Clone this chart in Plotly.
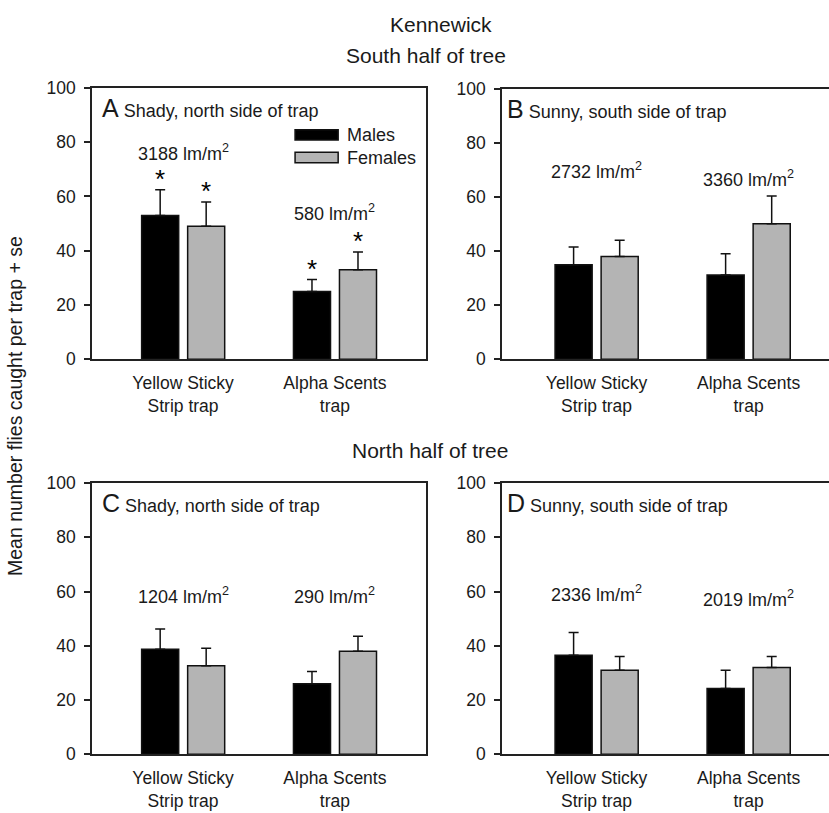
import plotly.graph_objects as go

W, H = 829, 813
FONT = "Liberation Sans, Arial, sans-serif"
TXT = "#1a1a1a"

categories = ["Yellow Sticky<br>Strip trap", "Alpha Scents<br>trap"]
cat_pos = [0, 1]

# Panel values (mean, standard error)
A_male = [53.0, 25.0]
A_male_se = [9.5, 4.4]
A_female = [49.0, 33.0]
A_female_se = [9.0, 6.5]

B_male = [35.0, 31.2]
B_male_se = [6.5, 7.8]
B_female = [38.0, 50.1]
B_female_se = [6.0, 10.3]

C_male = [38.7, 26.0]
C_male_se = [7.5, 4.5]
C_female = [32.6, 38.0]
C_female_se = [6.5, 5.5]

D_male = [36.5, 24.2]
D_male_se = [8.4, 6.8]
D_female = [31.0, 32.0]
D_female_se = [5.0, 4.0]

A_lux = ["3188", "580"]
B_lux = ["2732", "3360"]
C_lux = ["1204", "290"]
D_lux = ["2336", "2019"]
A_lux_y = [76.2, 54.2]
B_lux_y = [69.7, 66.7]
C_lux_y = [58.6, 58.6]
D_lux_y = [59.2, 57.5]

A_male_star = [True, True]
A_female_star = [True, True]

panel_letters = ["A", "B", "C", "D"]
panel_texts = ["Shady, north side of trap", "Sunny, south side of trap",
               "Shady, north side of trap", "Sunny, south side of trap"]

ytick_vals = [0, 20, 40, 60, 80, 100]

BAR_W = 0.244
MALE_OFF = -0.273
FEMALE_OFF = 0.03
MALE_COLOR = "#000000"
FEMALE_COLOR = "#b4b4b4"

# pixel layout of plot areas: (left, right, top, bottom)
boxes = [(92, 426, 80, 358), (502, 829, 81, 358),
         (92, 426, 485, 763), (502, 829, 485, 763)]
xranges = [[-0.6, 1.6], [-0.622, 1.529], [-0.6, 1.6], [-0.622, 1.529]]
mirror_y = [True, False, True, False]
letter_dx = [8, 3, 8, 3]

panels = [
    (A_male, A_male_se, A_female, A_female_se, A_lux, A_lux_y),
    (B_male, B_male_se, B_female, B_female_se, B_lux, B_lux_y),
    (C_male, C_male_se, C_female, C_female_se, C_lux, C_lux_y),
    (D_male, D_male_se, D_female, D_female_se, D_lux, D_lux_y),
]

fig = go.Figure()
layout = dict(
    width=W, height=H,
    margin=dict(l=0, r=0, t=0, b=0),
    paper_bgcolor="white", plot_bgcolor="white",
    showlegend=False,
    font=dict(family=FONT, size=18, color=TXT),
    barmode="overlay",
)
annotations = []
shapes = []

for i, (m, mse, f, fse, lux, luxy) in enumerate(panels):
    sfx = "" if i == 0 else str(i + 1)
    xa, ya = "x" + sfx, "y" + sfx
    l, r, t, b = boxes[i]
    err = dict(type="data", symmetric=False, arrayminus=[0, 0],
               color="#111", thickness=1.5, width=5)
    fig.add_trace(go.Bar(x=cat_pos, y=m, width=BAR_W, offset=MALE_OFF,
                         marker=dict(color=MALE_COLOR, line=dict(color="#111", width=1.5)),
                         error_y=dict(err, array=mse), xaxis=xa, yaxis=ya, name="Males"))
    fig.add_trace(go.Bar(x=cat_pos, y=f, width=BAR_W, offset=FEMALE_OFF,
                         marker=dict(color=FEMALE_COLOR, line=dict(color="#111", width=1.5)),
                         error_y=dict(err, array=fse), xaxis=xa, yaxis=ya, name="Females"))
    layout["xaxis" + sfx] = dict(
        domain=[l / W, r / W], anchor=ya, range=xranges[i],
        tickvals=cat_pos, ticktext=categories, ticks="", ticklabelstandoff=7,
        showline=True, mirror=True, linecolor="#222", linewidth=1.5,
        showgrid=False, zeroline=False, fixedrange=True,
        tickfont=dict(family=FONT, size=17.5, color=TXT))
    layout["yaxis" + sfx] = dict(
        domain=[1 - b / H, 1 - t / H], anchor=xa, range=[0, 100],
        tickvals=ytick_vals, ticks="outside", ticklen=6, tickwidth=1.5, tickcolor="#222",
        ticklabelstandoff=5,
        showline=True, mirror=mirror_y[i], linecolor="#222", linewidth=1.5,
        showgrid=False, zeroline=False, fixedrange=True,
        tickfont=dict(family=FONT, size=17.5, color=TXT))
    # lux labels
    for j in range(2):
        annotations.append(dict(
            x=cat_pos[j], y=luxy[j], xref=xa, yref=ya, showarrow=False,
            text=f"{lux[j]} lm/m<sup>2</sup>", xanchor="center", yanchor="middle",
            font=dict(family=FONT, size=18, color=TXT)))
    # panel label
    annotations.append(dict(
        x=letter_dx[i] / (r - l), y=1 - 4 / (b - t), xref=xa + " domain", yref=ya + " domain",
        showarrow=False, xanchor="left", yanchor="top",
        text=f"<span style='font-size:25px'>{panel_letters[i]}</span> {panel_texts[i]}",
        font=dict(family=FONT, size=18, color=TXT)))

# significance stars in panel A (placed just above the error-bar caps)
STAR_GAP = 3
star_x, star_y = [], []
for j in range(2):
    if A_male_star[j]:
        star_x.append(cat_pos[j] + MALE_OFF + BAR_W / 2)
        star_y.append(A_male[j] + A_male_se[j] + STAR_GAP)
    if A_female_star[j]:
        star_x.append(cat_pos[j] + FEMALE_OFF + BAR_W / 2)
        star_y.append(A_female[j] + A_female_se[j] + STAR_GAP)
fig.add_trace(go.Scatter(x=star_x, y=star_y, mode="text", text=["*"] * len(star_x),
                         textposition="middle center",
                         textfont=dict(family=FONT, size=26, color="#000"),
                         xaxis="x", yaxis="y", hoverinfo="skip"))

# legend in panel A (drawn manually)
legend_items = [("Males", MALE_COLOR, 0.846, 0.808), ("Females", FEMALE_COLOR, 0.763, 0.724)]
for name, col, y1, y0 in legend_items:
    shapes.append(dict(type="rect", xref="x domain", yref="y domain",
                       x0=0.608, x1=0.737, y0=y0, y1=y1,
                       fillcolor=col, line=dict(color="#111", width=1.5)))
    annotations.append(dict(x=0.757, y=(y0 + y1) / 2, xref="x domain", yref="y domain",
                            showarrow=False, xanchor="left", yanchor="middle",
                            text=name, font=dict(family=FONT, size=18, color=TXT)))

# titles
annotations.append(dict(x=441 / W, y=1 - 15 / H, xref="paper", yref="paper", showarrow=False,
                        text="Kennewick", font=dict(family=FONT, size=21, color=TXT),
                        xanchor="center", yanchor="middle"))
annotations.append(dict(x=426 / W, y=1 - 47 / H, xref="paper", yref="paper", showarrow=False,
                        text="South half of tree", font=dict(family=FONT, size=21, color=TXT),
                        xanchor="center", yanchor="middle"))
annotations.append(dict(x=430 / W, y=1 - 452 / H, xref="paper", yref="paper", showarrow=False,
                        text="North half of tree", font=dict(family=FONT, size=21, color=TXT),
                        xanchor="center", yanchor="middle"))
annotations.append(dict(x=15 / W, y=1 - 406 / H, xref="paper", yref="paper", showarrow=False,
                        text="Mean number flies caught per trap + se", textangle=-90,
                        font=dict(family=FONT, size=19.5, color=TXT),
                        xanchor="center", yanchor="middle"))

layout["annotations"] = annotations
layout["shapes"] = shapes
fig.update_layout(**layout)
fig.write_html(
    "out.html",
    config={"displayModeBar": False},
    post_script=(
        "document.documentElement.style.margin='0';"
        "document.documentElement.style.overflow='hidden';"
        "document.body.style.margin='0';document.body.style.padding='0';"
        "document.body.style.overflow='hidden';"
        "var g=document.getElementById('{plot_id}');"
        "g.style.position='fixed';g.style.top='0px';g.style.left='0px';"
    ),
)
